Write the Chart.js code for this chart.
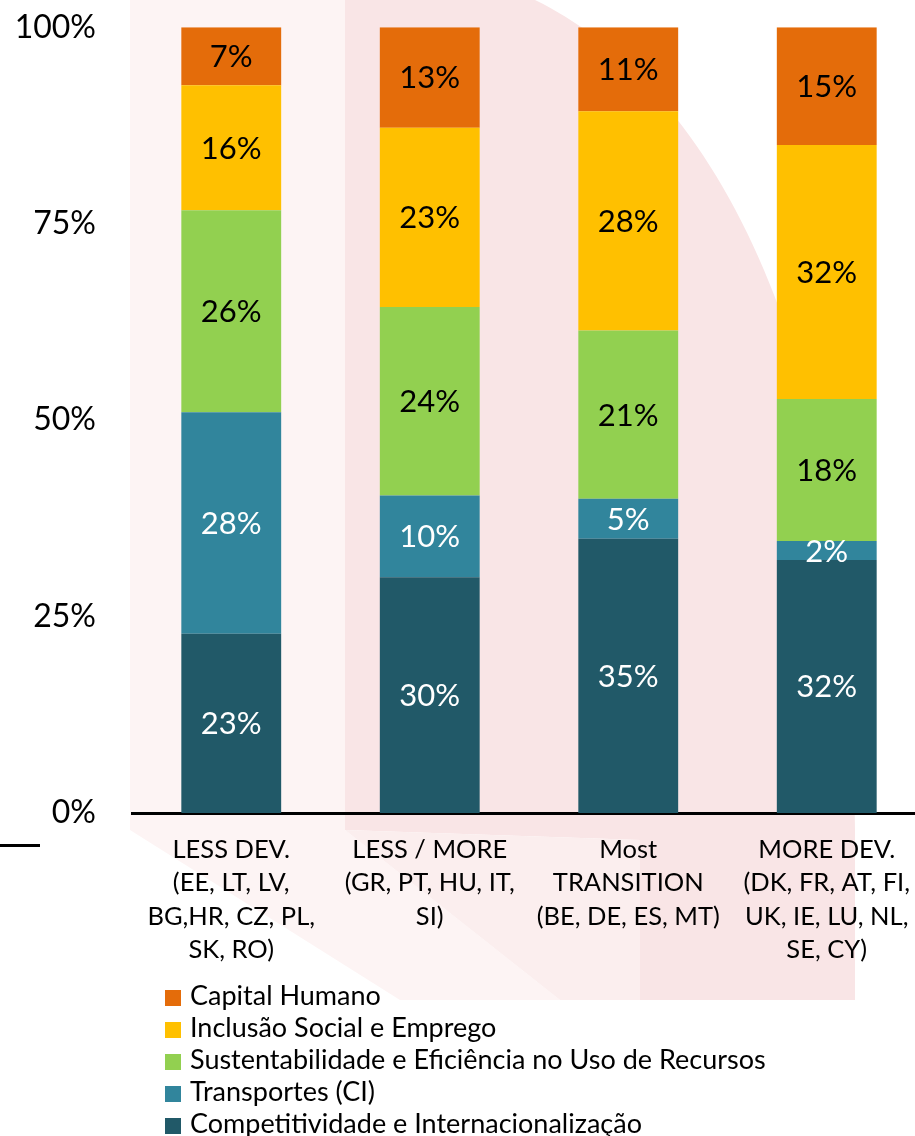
<!DOCTYPE html>
<html>
<head>
<meta charset="utf-8">
<script src="https://cdn.jsdelivr.net/npm/chart.js@4.4.0/dist/chart.umd.min.js"></script>
<style>
    body { margin: 0; width: 915px; height: 1136px; overflow: hidden; background: #fff; font-family: Lato, sans-serif; position: relative; }
    #wrap { position: absolute; left: 0; top: -28px; }
    #legend { position: absolute; left: 165px; top: 979px; font-size: 27px; color: #000; }
    #legend div { height: 32px; line-height: 32px; white-space: nowrap; }
    #legend span.box { display: inline-block; width: 16px; height: 16px; margin-right: 9px; vertical-align: -1px; }
</style>
</head>
<body>
<div id="wrap"><canvas id="chart" width="930" height="1028"></canvas></div>
<div id="legend"></div>
<script>
// Categories (multi-line labels)
const categories = [
    ['LESS DEV.', '(EE, LT, LV,', 'BG,HR, CZ, PL,', 'SK, RO)'],
    ['LESS / MORE', '(GR, PT, HU, IT,', 'SI)'],
    ['Most', 'TRANSITION', '(BE, DE, ES, MT)'],
    ['MORE DEV.', '(DK, FR, AT, FI,', 'UK, IE, LU, NL,', 'SE, CY)']
];

// Shares per category, in %
const competitividade = [22.8, 30.0, 34.9, 32.2];
const transportes = [28.2, 10.4, 5.1, 2.4];
const sustentabilidade = [25.7, 24.0, 21.4, 18.1];
const inclusao = [15.9, 22.8, 27.9, 32.3];
const capitalHumano = [7.4, 12.8, 10.7, 15.0];

const yTicks = [0, 25, 50, 75, 100];

const seriesNames = [
    'Competitividade e Internacionalização',
    'Transportes (CI)',
    'Sustentabilidade e Eficiência no Uso de Recursos',
    'Inclusão Social e Emprego',
    'Capital Humano'
];
const seriesColors = ['#215968', '#31859C', '#92D050', '#FFC000', '#E46C0A'];
const labelColors = ['#fff', '#fff', '#000', '#000', '#000'];
const seriesData = [competitividade, transportes, sustentabilidade, inclusao, capitalHumano];

// Faint slide decoration behind the plot (page coordinates, canvas sits 28px up)
const backdrop = {
    id: 'backdrop',
    beforeDraw(chart) {
        const ctx = chart.ctx;
        ctx.save();
        ctx.translate(0, 28);
        ctx.fillStyle = '#fdf4f4';
        ctx.beginPath();
        ctx.moveTo(130, 0);
        ctx.lineTo(345, 0);
        ctx.lineTo(345, 830);
        ctx.lineTo(560, 1000);
        ctx.lineTo(400, 1000);
        ctx.lineTo(130, 830);
        ctx.closePath();
        ctx.fill();

        ctx.fillStyle = '#f9e5e6';
        ctx.beginPath();
        ctx.moveTo(345, 0);
        ctx.lineTo(535, 0);
        ctx.bezierCurveTo(700, 80, 860, 330, 855, 830);
        ctx.lineTo(855, 1000);
        ctx.lineTo(640, 1000);
        ctx.lineTo(640, 840);
        ctx.lineTo(345, 830);
        ctx.closePath();
        ctx.fill();

        ctx.fillStyle = '#fbeeee';
        ctx.beginPath();
        ctx.moveTo(345, 830);
        ctx.lineTo(640, 840);
        ctx.lineTo(640, 1000);
        ctx.lineTo(560, 1000);
        ctx.closePath();
        ctx.fill();

        // short rule on the left edge
        ctx.fillStyle = '#000';
        ctx.fillRect(0, 844, 40, 3);
        ctx.restore();
    }
};

// Percent labels centred in each segment
const segmentLabels = {
    id: 'segmentLabels',
    afterDatasetsDraw(chart) {
        const ctx = chart.ctx;
        ctx.save();
        ctx.font = '31px Lato';
        ctx.textAlign = 'center';
        ctx.textBaseline = 'middle';
        chart.data.datasets.forEach((ds, i) => {
            const meta = chart.getDatasetMeta(i);
            meta.data.forEach((bar, j) => {
                const p = bar.getCenterPoint();
                ctx.fillStyle = labelColors[i];
                ctx.fillText(Math.round(ds.data[j]) + '%', p.x, p.y + 1);
            });
        });
        ctx.restore();
    }
};

const datasets = seriesNames.map((name, i) => ({
    label: name,
    data: seriesData[i],
    backgroundColor: seriesColors[i],
    borderWidth: 0,
    barPercentage: 0.503,
    categoryPercentage: 1
}));

new Chart(document.getElementById('chart'), {
    type: 'bar',
    data: { labels: categories, datasets },
    options: {
        responsive: false,
        animation: false,
        devicePixelRatio: 1,
        layout: { padding: 0 },
        plugins: {
            legend: { display: false },
            tooltip: { enabled: false }
        },
        scales: {
            x: {
                stacked: true,
                grid: { display: false, drawTicks: false },
                border: { display: true, color: '#000', width: 3 },
                ticks: {
                    color: '#000',
                    font: { family: 'Lato', size: 25.5, lineHeight: 1.31 },
                    padding: 20,
                    maxRotation: 0,
                    autoSkip: false
                },
                afterFit(scale) { scale.height = 187; }
            },
            y: {
                stacked: true,
                min: 0,
                max: 100,
                grid: { display: false, drawTicks: false },
                border: { display: false },
                afterBuildTicks(scale) { scale.ticks = yTicks.map(v => ({ value: v })); },
                ticks: {
                    color: '#000',
                    font: { family: 'Lato', size: 32 },
                    padding: 36,
                    callback: v => v + '%'
                },
                afterFit(scale) { scale.width = 132; }
            }
        }
    },
    plugins: [backdrop, segmentLabels]
});

// Legend, top series first
const legend = document.getElementById('legend');
for (let i = seriesNames.length - 1; i >= 0; i--) {
    const row = document.createElement('div');
    row.innerHTML = `<span class="box" style="background:${seriesColors[i]}"></span>${seriesNames[i]}`;
    legend.appendChild(row);
}
</script>
</body>
</html>
